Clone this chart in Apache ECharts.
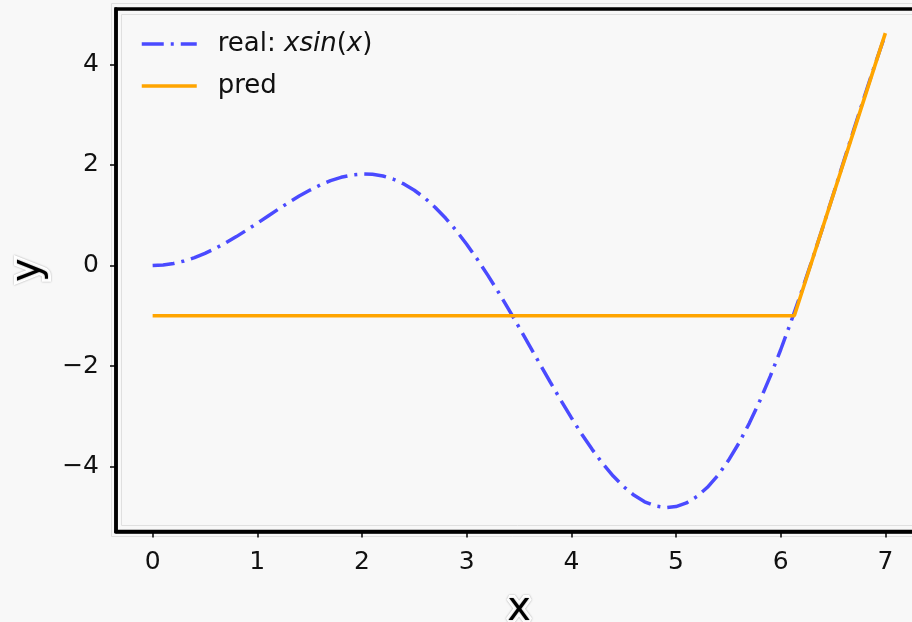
<!DOCTYPE html>
<html>
<head>
<meta charset="utf-8">
<script src="https://cdn.jsdelivr.net/npm/echarts@6/dist/echarts.min.js"></script>
<style>
html,body{margin:0;padding:0;background:#f8f8f8;}
#main{width:912px;height:622px;}
</style>
</head>
<body>
<div id="main"></div>
<script>
// real curve samples, x from 0 to 7 step 0.1
const realX = [0.0,0.1,0.2,0.3,0.4,0.5,0.6,0.7,0.8,0.9,1.0,1.1,1.2,1.3,1.4,1.5,1.6,1.7,1.8,1.9,2.0,2.1,2.2,2.3,2.4,2.5,2.6,2.7,2.8,2.9,3.0,3.1,3.2,3.3,3.4,3.5,3.6,3.7,3.8,3.9,4.0,4.1,4.2,4.3,4.4,4.5,4.6,4.7,4.8,4.9,5.0,5.1,5.2,5.3,5.4,5.5,5.6,5.7,5.8,5.9,6.0,6.1,6.2,6.3,6.4,6.5,6.6,6.7,6.8,6.9,7.0];
const realY = [0.000,0.010,0.040,0.089,0.156,0.240,0.339,0.451,0.574,0.705,0.841,0.980,1.118,1.253,1.380,1.496,1.599,1.686,1.753,1.798,1.819,1.813,1.779,1.715,1.621,1.496,1.340,1.154,0.938,0.694,0.423,0.129,-0.187,-0.520,-0.869,-1.228,-1.593,-1.960,-2.325,-2.682,-3.027,-3.355,-3.661,-3.940,-4.187,-4.399,-4.571,-4.700,-4.782,-4.814,-4.795,-4.722,-4.594,-4.411,-4.173,-3.880,-3.535,-3.139,-2.694,-2.206,-1.676,-1.111,-0.515,0.106,0.746,1.398,2.056,2.712,3.360,3.991,4.599];
const predX = [0, 6.13, 7.0];
const predY = [-1.0, -1.0, 4.62];
const xTicks = [0,1,2,3,4,5,6,7];
const yTicks = [-4,-2,0,2,4];
const seriesNames = ['real', 'pred'];

const FONT = 'DejaVu Sans';
const realData = realX.map((x,i)=>[x, realY[i]]);
const predData = predX.map((x,i)=>[x, predY[i]]);

const nameStyle = {fontFamily: FONT, fontSize: 40, color: '#000', textBorderColor: '#fff', textBorderWidth: 6,
  textShadowColor: 'rgba(0,0,0,0.35)', textShadowBlur: 2};
const axLine = {show: true, onZero: false, lineStyle: {color: '#000', width: 3.5}};

const chart = echarts.init(document.getElementById('main'), null, {renderer:'canvas'});
chart.setOption({
  backgroundColor: '#f8f8f8',
  animation: false,
  graphic: [
    {type: 'rect', z: 0, silent: true, shape: {x: 111.5, y: 3.5, width: 820, height: 533}, style: {fill: null, stroke: '#e0e0e0', lineWidth: 1}},
    {type: 'rect', z: 0, silent: true, shape: {x: 121.5, y: 14.5, width: 800, height: 511}, style: {fill: null, stroke: '#e0e0e0', lineWidth: 1}}
  ],
  grid: {
    left: 116, top: 9, width: 806, height: 522.5,
    outerBoundsMode: 'none', containLabel: false,
    show: true, borderColor: '#000', borderWidth: 3.5, backgroundColor: 'transparent'
  },
  legend: {
    left: 140, top: 29, orient: 'vertical', padding: 0,
    itemWidth: 55, itemHeight: 14, itemGap: 12,
    data: seriesNames,
    itemStyle: {color: 'rgba(0,0,0,0)', borderWidth: 0, opacity: 0},
    lineStyle: {width: 3.5},
    textStyle: {
      fontFamily: FONT, fontSize: 26, color: '#111', lineHeight: 30,
      padding: [0,0,0,16],
      rich: {
        i: {fontFamily: FONT, fontStyle: 'italic', fontSize: 26, color: '#111'},
        n: {fontFamily: FONT, fontSize: 26, color: '#111'}
      }
    },
    formatter: function(name){
      if (name === 'real') return '{n|real: }{i|xsin}{n|(}{i|x}{n|)}';
      return '{n|pred}';
    }
  },
  xAxis: {
    type: 'value', min: -0.35, max: 7.35,
    name: 'x', nameLocation: 'middle', nameGap: 58,
    nameTextStyle: nameStyle,
    splitLine: {show: false},
    axisLine: axLine,
    axisTick: {show: true, inside: false, length: 6, lineStyle: {color: '#000', width: 1.5}, customValues: xTicks},
    axisLabel: {fontFamily: FONT, fontSize: 25, color: '#111', margin: 18, customValues: xTicks,
      formatter: v => String(v)}
  },
  yAxis: {
    type: 'value', min: -5.29, max: 5.10,
    name: 'y', nameLocation: 'middle', nameGap: 62, nameRotate: 90,
    nameTextStyle: nameStyle,
    splitLine: {show: false},
    axisLine: axLine,
    axisTick: {show: true, inside: false, length: 6, lineStyle: {color: '#000', width: 1.5}, customValues: yTicks},
    axisLabel: {fontFamily: FONT, fontSize: 25, color: '#111', margin: 17, customValues: yTicks,
      formatter: v => (v < 0 ? '\u2212' + Math.abs(v) : String(v))}
  },
  series: [
    {
      name: 'real', type: 'line', data: realData, symbol: 'none', showSymbol: false,
      lineStyle: {color: '#4a4aff', width: 3.5, type: [22, 7, 3, 7], cap: 'butt'},
      itemStyle: {color: '#4a4aff'}, z: 2
    },
    {
      name: 'pred', type: 'line', data: predData, symbol: 'none', showSymbol: false,
      lineStyle: {color: '#ffa500', width: 3.6, type: 'solid'},
      itemStyle: {color: '#ffa500'}, z: 3
    }
  ]
});
</script>
</body>
</html>
